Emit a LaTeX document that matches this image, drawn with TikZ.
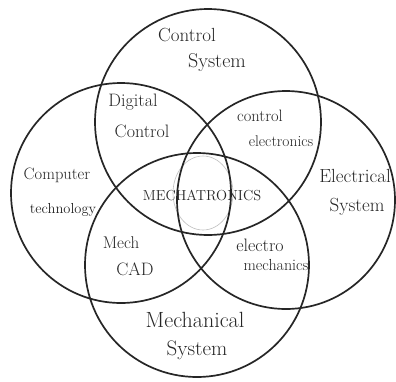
\documentclass[tikz,border=0pt]{standalone}
\begin{document}
\begin{tikzpicture}[x=1pt,y=-1pt,
  ring/.style={draw=black!85,line width=1.7pt},
  faint/.style={draw=black!25,line width=0.6pt},
  lbl/.style={font=\fontsize{#1}{#1}\selectfont,text=black!85,inner sep=0pt}]
\useasboundingbox[fill=white] (0,0) rectangle (396,381);
% faint pencil circle
\draw[faint] (203,193) ellipse[x radius=30,y radius=37];
% four circles
\draw[ring] (208,122) circle[radius=113];
\draw[ring] (121,193) circle[radius=110];
\draw[ring] (286,200) circle[radius=109];
\draw[ring] (197,265) circle[radius=112];
% labels
\node[lbl=19] (cs1) at (187,35) {Control};
\node[lbl=20] (cs2) at (217,63) {System};
\node[lbl=18] (dc1) at (133,102) {Digital};
\node[lbl=18] (dc2) at (142,131) {Control};
\node[lbl=16.5] (ce1) at (260,116) {control};
\node[lbl=15.5] (ce2) at (281,141) {electronics};
\node[lbl=16.5] (ct1) at (57,175) {Computer};
\node[lbl=14.5] (ct2) at (63,210) {technology};
\node[lbl=14.5] (mt) at (202,195) {MECHATRONICS};
\node[lbl=19] (es1) at (355,176) {Electrical};
\node[lbl=19] (es2) at (357,207) {System};
\node[lbl=17] (mc1) at (121,243) {Mech};
\node[lbl=18] (mc2) at (135,269) {CAD};
\node[lbl=18] (em1) at (260,245) {electro};
\node[lbl=16] (em2) at (276,265) {mechanics};
\node[lbl=22] (ms1) at (195,320) {Mechanical};
\node[lbl=21] (ms2) at (197,350) {System};
\end{tikzpicture}
\end{document}
